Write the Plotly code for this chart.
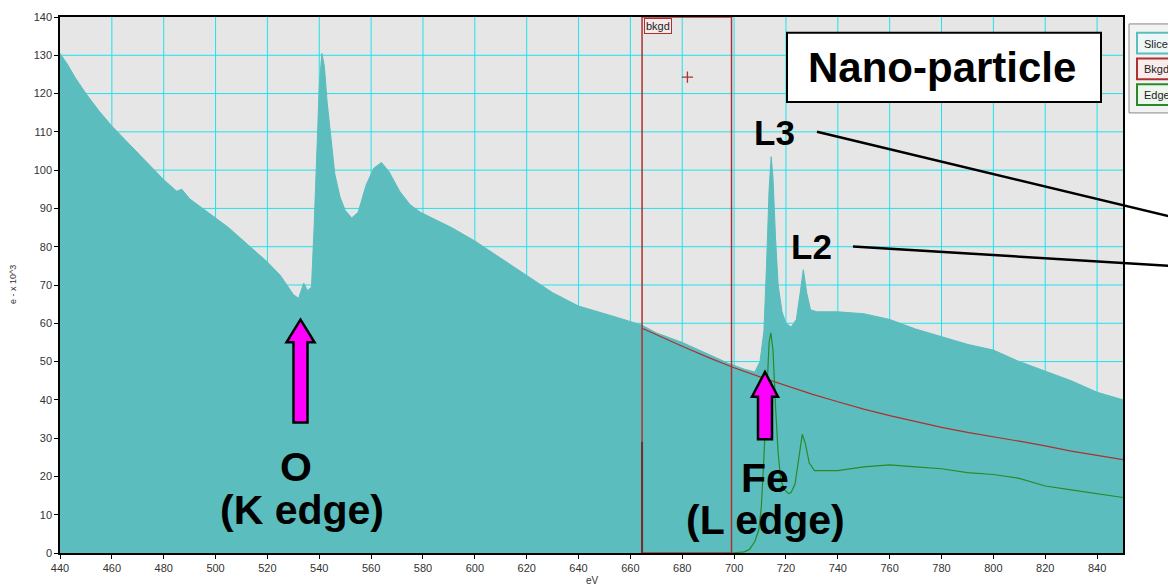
import plotly.graph_objects as go

# ---------------- data ----------------
spec_ev = [440, 443, 446, 450, 455, 460, 465, 470, 475, 480, 485, 487, 490, 495, 500,
           505, 510, 515, 520, 525, 528, 530, 532, 534, 535.5, 537, 538, 539, 540, 541,
           542, 543, 544.5, 546, 548, 550, 552.5, 555, 558, 561, 564, 567, 571, 575, 579,
           585, 591, 600, 610, 620, 630, 640, 648, 655, 664.5, 670, 680, 690, 698, 704,
           708, 710, 711.5, 712.5, 713.5, 714.3, 715, 716, 717, 718.5, 720, 722, 724,
           725.5, 726.7, 728, 729.5, 732, 740, 750, 760, 770, 780, 790, 800, 810, 820,
           830, 840, 850]
spec_val = [130.5, 127.5, 124, 120, 115.5, 111.5, 108, 104.5, 101, 97.5, 94.5, 95, 92.5, 90, 87.5,
            85, 82, 79, 76, 72.5, 69.5, 67.5, 66.5, 70.5, 68.5, 69.5, 85, 105, 122, 130.5,
            127, 118, 108, 99, 93, 89.5, 87.5, 89, 96, 100.5, 102, 99.5, 94.5, 91, 89,
            87, 85, 81.5, 77, 72.5, 68, 64.5, 63, 61.5, 59.5, 57.5, 55, 52, 49.5, 48,
            47.3, 50, 58, 75, 95, 103.5, 98, 82, 70, 63, 60, 59, 61,
            68, 74, 68, 63.5, 63, 63, 62.5, 61, 58.5, 56.5, 54.5, 53, 50, 47.5,
            45, 42, 40]

bkgd_ev = [664.5, 670, 680, 690, 700, 710, 720, 730, 740, 750, 760, 770, 780, 790, 800,
           810, 820, 830, 840, 850]
bkgd_val = [58.7, 57.0, 54.0, 51.1, 48.4, 46.0, 43.7, 41.5, 39.5, 37.6, 35.9, 34.3, 32.8,
            31.5, 30.4, 29.2, 28.0, 26.6, 25.5, 24.4]

edge_ev = [699, 704, 706, 708, 709.5, 710.5, 711.5, 712.5, 713.5, 714.2, 715, 716, 717, 718,
           719.5, 721, 722, 723.5, 725, 726.3, 727.5, 729, 731, 733, 740, 750, 760, 770, 780,
           790, 800, 810, 815, 820, 830, 840, 850]
edge_val = [0, 0.3, 1, 3, 6, 12, 25, 42, 55, 57.5, 53, 38, 26, 19,
            16.5, 15.5, 15.8, 18, 25, 31, 28.5, 23.5, 21.5, 21.5, 21.5, 22.5, 23, 22.5, 22,
            21, 20.5, 19.5, 18.5, 17.5, 16.5, 15.5, 14.5]

window_ev = [664.5, 699]          # bkgd fitting window
window_marker = (682, 124.3)      # "+" marker in window
x_ticks = list(range(440, 841, 20))
y_ticks = list(range(0, 141, 10))
legend_labels = ["Slice0", "Bkgd", "Edge"]

# ---------------- layout geometry ----------------
W, H = 1168, 587
L, R, T, B = 60, 1123, 11, 553
X_RANGE = [440, 850]
Y_RANGE = [0, 140]


def px(x):
    return (x - L) / (R - L)


def py(y):
    return (B - y) / (B - T)


TEAL = "#5bbdbd"
RED = "#b03030"
GREEN = "#2a8a2a"
GRID = "#1fe3ec"

fig = go.Figure()
fig.add_trace(go.Scatter(x=spec_ev, y=spec_val, mode="lines", fill="tozeroy",
                         fillcolor=TEAL, line=dict(color=TEAL, width=1),
                         hoverinfo="skip", showlegend=False))
fig.add_trace(go.Scatter(x=bkgd_ev, y=bkgd_val, mode="lines",
                         line=dict(color=RED, width=1.2), showlegend=False))
fig.add_trace(go.Scatter(x=edge_ev, y=edge_val, mode="lines",
                         line=dict(color=GREEN, width=1.2), showlegend=False))
fig.add_trace(go.Scatter(x=[window_marker[0]], y=[window_marker[1]], mode="markers",
                         marker=dict(symbol="cross-thin", size=8,
                                     line=dict(color=RED, width=1.3)),
                         showlegend=False))

shapes = []
# grid drawn beneath the traces
for xv in x_ticks[1:]:
    shapes.append(dict(type="line", xref="x", yref="y", x0=xv, x1=xv, y0=Y_RANGE[0],
                       y1=Y_RANGE[1], line=dict(color=GRID, width=1), layer="below"))
for yv in y_ticks[1:-1]:
    shapes.append(dict(type="line", xref="x", yref="y", x0=X_RANGE[0], x1=X_RANGE[1],
                       y0=yv, y1=yv, line=dict(color=GRID, width=1), layer="below"))

# bkgd window
shapes.append(dict(type="rect", xref="x", yref="y", x0=window_ev[0], x1=window_ev[1],
                   y0=0, y1=140, line=dict(color=RED, width=1.5), layer="above"))
shapes.append(dict(type="line", xref="x", yref="y", x0=window_ev[0], x1=window_ev[0],
                   y0=0, y1=29, line=dict(color="#7a2a2a", width=2)))


def arrow(tipx, tipy, hw, hb, sw, bot):
    pts = [(tipx, tipy), (tipx + hw, hb), (tipx + sw, hb), (tipx + sw, bot),
           (tipx - sw, bot), (tipx - sw, hb), (tipx - hw, hb)]
    p = "M " + " L ".join(f"{px(a):.5f},{py(b):.5f}" for a, b in pts) + " Z"
    return dict(type="path", xref="paper", yref="paper", path=p,
                fillcolor="#ff00ff", line=dict(color="black", width=2.5), layer="above")


shapes.append(arrow(300.5, 317, 14, 340, 7, 421))
shapes.append(arrow(765, 370, 13, 395, 7, 438))

# leader lines for L3, L2
shapes.append(dict(type="line", xref="paper", yref="paper", x0=px(817), y0=py(127),
                   x1=px(1175), y1=py(214), line=dict(color="black", width=2.5)))
shapes.append(dict(type="line", xref="paper", yref="paper", x0=px(853), y0=py(243),
                   x1=px(1175), y1=py(263), line=dict(color="black", width=2.5)))

# Nano-particle box
shapes.append(dict(type="rect", xref="paper", yref="paper", x0=px(787), x1=px(1101),
                   y0=py(27), y1=py(97), fillcolor="white",
                   line=dict(color="black", width=2), layer="above"))

# legend panel
shapes.append(dict(type="rect", xref="paper", yref="paper", x0=px(1129), x1=px(1200),
                   y0=py(18), y1=py(108), fillcolor="#f2f2f2",
                   line=dict(color="#888888", width=1), layer="above"))
leg_cols = [(TEAL, "#eef7f7"), (RED, "#f9ecec"), (GREEN, "#eef7ee")]
leg_tops = [27, 53, 79]
for (bc, fc), t in zip(leg_cols, leg_tops):
    shapes.append(dict(type="rect", xref="paper", yref="paper", x0=px(1137), x1=px(1200),
                       y0=py(t), y1=py(t + 21), fillcolor=fc,
                       line=dict(color=bc, width=2), layer="above"))

annotations = []
FAM = "Liberation Sans, Arial"
bold = dict(family=FAM, size=41, color="black")


def txt(s, x, y, font, **kw):
    annotations.append(dict(text=s, x=px(x), y=py(y), xref="paper", yref="paper",
                            showarrow=False, font=font, xanchor=kw.pop("xanchor", "center"),
                            yanchor=kw.pop("yanchor", "middle"), **kw))


txt("<b>Nano-particle</b>", 942, 62, dict(family=FAM, size=42, color="black"))
txt("<b>L3</b>", 774, 128, dict(family=FAM, size=35, color="black"))
txt("<b>L2</b>", 811, 243, dict(family=FAM, size=35, color="black"))
txt("<b>O</b>", 296, 466, bold)
txt("<b>(K edge)</b>", 302, 510, bold)
txt("<b>Fe</b>", 765, 477, bold)
txt("<b>(L edge)</b>", 765, 520, bold)

# bkgd label
txt("bkgd", 644, 20, dict(family=FAM, size=11, color="#222"),
    xanchor="left", bgcolor="#f5eaea", bordercolor=RED, borderwidth=1, borderpad=1)

# legend texts (clipped by the window edge, as in the source)
for lab, t in zip(legend_labels, leg_tops):
    txt(lab, 1142, t + 11, dict(family=FAM, size=11, color="#222"), xanchor="left")

# axis titles
txt("e - x 10^3", 13, 282, dict(family=FAM, size=9, color="#333"), textangle=-90)
txt("eV", 592, 581, dict(family=FAM, size=10, color="#333"))

axis_common = dict(showline=True, linecolor="black", linewidth=1.5, mirror=True,
                   ticks="outside", ticklen=4, tickcolor="black", tickwidth=1,
                   showgrid=False, zeroline=False,
                   tickfont=dict(family=FAM, size=11, color="#333"))

fig.update_layout(
    width=W, height=H,
    margin=dict(l=L, r=W - R, t=T, b=H - B),
    paper_bgcolor="white", plot_bgcolor="#e6e6e6",
    xaxis=dict(range=X_RANGE, tickvals=x_ticks, **axis_common),
    yaxis=dict(range=Y_RANGE, tickvals=y_ticks, **axis_common),
    shapes=shapes, annotations=annotations, showlegend=False,
)

fig.write_html("out.html")
